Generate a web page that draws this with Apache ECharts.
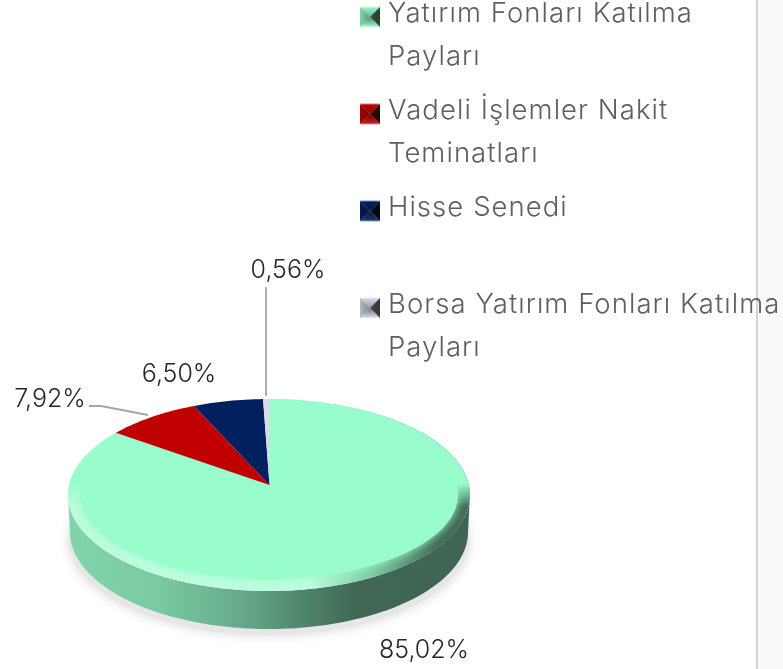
<!DOCTYPE html>
<html><head><meta charset="utf-8">
<style>html,body{margin:0;padding:0;background:#fff}#c{width:783px;height:669px}</style>
<script src="https://cdn.jsdelivr.net/npm/echarts@6/dist/echarts.min.js"></script>
</head><body><div id="c"></div>
<script>
const categories = ['Yatırım Fonları Katılma\nPayları','Vadeli İşlemler Nakit\nTeminatları','Hisse Senedi\n ','Borsa Yatırım Fonları Katılma\nPayları'];
const values = [85.02, 7.92, 6.50, 0.56];
const colors = ['#99fccc','#c00000','#002060','#d5dcea'];

const FONT = 'Inter, Lato, "Open Sans", sans-serif';
const LEGEND_PX = 27.5, LEGEND_TRACKING = '1.05px';
// The reference face is wider than any installed one: track the legend text out to the same width.
(function(){
  const P = CanvasRenderingContext2D.prototype, d = Object.getOwnPropertyDescriptor(P,'font');
  Object.defineProperty(P,'font',{configurable:true,get(){return d.get.call(this);},set(v){
    d.set.call(this,v);
    if('letterSpacing' in this) this.letterSpacing = String(v).indexOf(LEGEND_PX+'px')>=0 ? LEGEND_TRACKING : '0px';
  }});
})();

const apex = [269.5,485];
const flat = {cx:269,cy:495,rx:189,ry:84};
const rim  = {cx:269,cy:495,rx:201,ry:96};
const base = {cx:269,cy:532,rx:199,ry:97};
const labelLayouts = [
  {x:424,y:650},
  {x:50,y:399,leader:[[89,406],[101,406],[148,415]]},
  {x:179,y:374},
  {x:288,y:270,leader:[[266,287],[266,396]]}
];
const total = values.reduce((a,b)=>a+b,0);
function range(i){
  let s = 0; for(let k=0;k<i;k++) s += values[k]/total*360;
  return [s, s+values[i]/total*360];
}
// perspective of the tilted disc: equal angles do not project to equal ellipse angles
function warp(deg){return deg-4.5*Math.sin(2*deg*Math.PI/180);}
function pt(e,deg){const t=warp(deg)*Math.PI/180;return [e.cx+e.rx*Math.sin(t), e.cy-e.ry*Math.cos(t)];}
function arc(e,a,b){const n=Math.max(2,Math.ceil((b-a)/1.5));const p=[];for(let j=0;j<=n;j++)p.push(pt(e,a+(b-a)*j/n));return p;}
function shade(hex,f){const n=parseInt(hex.slice(1),16);const c=[n>>16,(n>>8)&255,n&255].map(v=>Math.max(0,Math.min(255,Math.round(f>1?v+(255-v)*(f-1):v*f))));return 'rgb('+c.join(',')+')';}
function makeIcon(col){
  const cv=document.createElement('canvas');cv.width=23;cv.height=86;const g=cv.getContext('2d');
  const X=0,Y=14.5,S=20,mx=X+S/2,my=Y+S/2;
  const tri=(a,b,c1,c2)=>{
    const gr=g.createLinearGradient((a[0]+b[0])/2,(a[1]+b[1])/2,mx,my);gr.addColorStop(0,c1);gr.addColorStop(1,c2);
    g.fillStyle=gr;g.beginPath();g.moveTo(a[0],a[1]);g.lineTo(b[0],b[1]);g.lineTo(mx,my);g.closePath();g.fill();};
  const tl=[X,Y],tr=[X+S,Y],br=[X+S,Y+S],bl=[X,Y+S];
  tri(tl,tr,shade(col,1),shade(col,.7));
  tri(tl,bl,shade(col,.85),shade(col,.6));
  tri(tr,br,shade(col,.25),shade(col,.3));
  tri(bl,br,shade(col,1.12),shade(col,.5));
  return 'image://'+cv.toDataURL();
}
function renderSlice(i){
  return function(params,api){
    const v=api.value(0);
    const [a,b]=range(i), col=colors[i], kids=[];
    const fa=Math.max(a,90), fb=Math.min(b,270);
    if(fb>fa){
      const pts=arc(rim,fa,fb).concat(arc(base,fa,fb).reverse());
      kids.push({type:'polygon',shape:{points:pts},style:{fill:new echarts.graphic.LinearGradient(0,0,1,0,[
        {offset:0,color:shade(col,.84)},{offset:.22,color:shade(col,.8)},{offset:.42,color:shade(col,.68)},
        {offset:.58,color:shade(col,.53)},{offset:.72,color:shade(col,.41)},{offset:1,color:shade(col,.4)}])}});
      const wedge=[apex].concat(arc(rim,a,b));
      kids.push({type:'polygon',shape:{points:wedge},style:{fill:new echarts.graphic.LinearGradient(0,0,1,0,[
        {offset:0,color:shade(col,1.35)},{offset:.6,color:shade(col,1.35)},{offset:.76,color:shade(col,.8)},{offset:.92,color:shade(col,.42)},{offset:1,color:shade(col,.42)}])}});
      kids.push({type:'polygon',shape:{points:wedge},style:{fill:new echarts.graphic.LinearGradient(0,0,0,1,[
        {offset:0,color:col},{offset:.44,color:col},{offset:.56,color:echarts.color.modifyAlpha(col,0)},{offset:1,color:echarts.color.modifyAlpha(col,0)}])}});
      // soft inner edge of the bevel
      kids.push({type:'polygon',shape:{points:[apex].concat(arc(flat,a,b))},style:{fill:col,shadowBlur:10,shadowColor:col}});
    } else {
      kids.push({type:'polygon',shape:{points:[apex].concat(arc(rim,a,b))},style:{fill:col}});
    }
    const L=labelLayouts[i];
    if(L.leader) kids.push({type:'polyline',shape:{points:L.leader},style:{fill:null,stroke:'#a6a6a6',lineWidth:1.8}});
    kids.push({type:'text',style:{text:v.toFixed(2).replace('.',',')+'%',x:L.x,y:L.y,align:'center',verticalAlign:'middle',font:'300 25px '+FONT,fill:'#262626'}});
    return {type:'group',children:kids};
  };
}
const chart=echarts.init(document.getElementById('c'),null,{renderer:'canvas'});
chart.setOption({
  animation:false,
  legend:{orient:'vertical',left:360,top:-7.5,padding:0,itemGap:11,itemWidth:23,itemHeight:86,selectedMode:false,
    data:categories.map((n,i)=>({name:n,icon:makeIcon(colors[i])})),
    textStyle:{fontFamily:FONT,fontWeight:300,fontSize:LEGEND_PX,lineHeight:43,color:'#5f5f5f',padding:0}},
  graphic:[
    {type:'rect',z:0,shape:{x:758,y:0,width:25,height:669},style:{fill:'#fafafa'}},
    {type:'rect',z:0,shape:{x:756,y:0,width:2,height:669},style:{fill:'#d4d4d4'}},
    {type:'ellipse',z:0,shape:{cx:269,cy:540,rx:200,ry:95},style:{fill:'#e6e6e6',shadowBlur:12,shadowColor:'#d8d8d8'}}
  ],
  series:categories.map((n,i)=>({type:'custom',name:n,coordinateSystem:'none',silent:true,z:2+i,data:[[values[i]]],renderItem:renderSlice(i),clip:false}))
});
</script></body></html>
